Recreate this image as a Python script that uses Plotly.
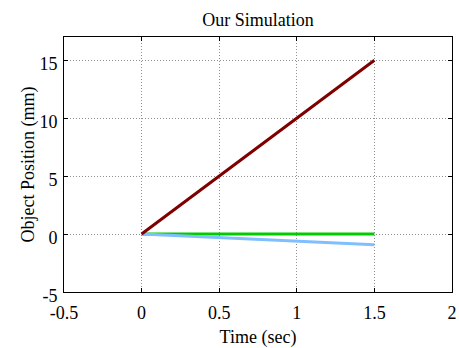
import plotly.graph_objects as go

time_sec = [0, 0.5, 1.0, 1.5]
pos_red = [0, 5, 10, 15]
pos_green = [0, 0, 0, 0]
pos_blue = [0, -0.3, -0.6, -0.92]

x_ticks = [-0.5, 0, 0.5, 1, 1.5, 2]
x_ticktext = ["-0.5", "0", "0.5", "1", "1.5", "2"]
y_ticks = [-5, 0, 5, 10, 15]
y_ticktext = ["-5", "0", "5", "10", "15"]

FONT = "Liberation Serif, Times New Roman, serif"

fig = go.Figure()
fig.add_trace(go.Scatter(x=time_sec, y=pos_green, mode="lines",
                         line=dict(color="#00cc00", width=3)))
fig.add_trace(go.Scatter(x=time_sec, y=pos_blue, mode="lines",
                         line=dict(color="#80bfff", width=3)))
fig.add_trace(go.Scatter(x=time_sec, y=pos_red, mode="lines",
                         line=dict(color="#800000", width=3)))

axis_common = dict(
    showline=True, linecolor="black", linewidth=1, mirror="ticks",
    ticks="inside", ticklen=4, tickcolor="black",
    showgrid=True, gridcolor="#909090", griddash="1px,2px", gridwidth=1,
    zeroline=False, automargin=False,
    tickfont=dict(family=FONT, size=18, color="black"),
)

fig.update_layout(
    width=459, height=348,
    margin=dict(l=64, r=7, t=37, b=56),
    paper_bgcolor="white", plot_bgcolor="white",
    showlegend=False,
    title=dict(text="Our Simulation", x=0.5, xref="paper", xanchor="center",
               y=1 - 20 / 348, yanchor="middle",
               font=dict(family=FONT, size=18, color="black")),
    xaxis=dict(range=[-0.5, 2], tickvals=x_ticks, ticktext=x_ticktext,
               ticklabelstandoff=4,
               title=dict(text="Time (sec)", font=dict(family=FONT, size=18, color="black"), standoff=9),
               **axis_common),
    yaxis=dict(range=[-5, 17], tickvals=y_ticks, ticktext=y_ticktext,
               ticklabelstandoff=2, ticklabelshift=4,
               title=dict(text="Object Position (mm)", font=dict(family=FONT, size=18, color="black"), standoff=0),
               **axis_common),
)

fig.write_html("out.html")
